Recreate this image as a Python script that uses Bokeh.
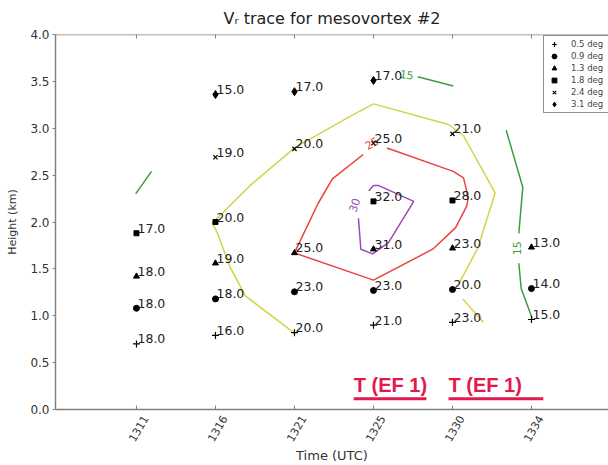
import math
from bokeh.plotting import figure
from bokeh.models import Range1d, FixedTicker, Span, Legend, LegendItem, CustomJSTickFormatter
from bokeh.core.properties import value
from bokeh.embed import file_html
from bokeh.resources import INLINE

# ---- data ----
times = ["1311", "1316", "1321", "1325", "1330", "1334"]
y_ticks = [0.0, 0.5, 1.0, 1.5, 2.0, 2.5, 3.0, 3.5, 4.0]

angle_labels = ["0.5 deg", "0.9 deg", "1.3 deg", "1.8 deg", "2.4 deg", "3.1 deg"]
angle_markers = ["cross", "circle", "triangle", "square", "x", "diamond"]

t05 = ["1311", "1316", "1321", "1325", "1330", "1334"]
h05 = [0.70, 0.79, 0.82, 0.90, 0.93, 0.96]
v05 = [18.0, 16.0, 20.0, 21.0, 23.0, 15.0]

t09 = ["1311", "1316", "1321", "1325", "1330", "1334"]
h09 = [1.08, 1.18, 1.255, 1.27, 1.28, 1.29]
v09 = [18.0, 18.0, 23.0, 23.0, 20.0, 14.0]

t13 = ["1311", "1316", "1321", "1325", "1330", "1334"]
h13 = [1.42, 1.56, 1.67, 1.71, 1.72, 1.73]
v13 = [18.0, 19.0, 25.0, 31.0, 23.0, 13.0]

t18 = ["1311", "1316", "1325", "1330"]
h18 = [1.88, 2.00, 2.22, 2.23]
v18 = [17.0, 20.0, 32.0, 28.0]

t24 = ["1316", "1321", "1325", "1330"]
h24 = [2.69, 2.78, 2.84, 2.94]
v24 = [19.0, 20.0, 25.0, 21.0]

t31 = ["1316", "1321", "1325"]
h31 = [3.36, 3.39, 3.51]
v31 = [15.0, 17.0, 17.0]

series_t = [t05, t09, t13, t18, t24, t31]
series_h = [h05, h09, h13, h18, h24, h31]
series_v = [v05, v09, v13, v18, v24, v31]

# contour lines (x in time-index units, y in km)
c15_x = [[-0.01, 0.19], [3.56, 4.01], [4.68, 4.89, 4.84], [4.84, 4.87, 5.01]]
c15_y = [[2.30, 2.54], [3.55, 3.45], [2.98, 2.37, 1.88], [1.56, 1.29, 0.97]]
c20_x = [[1.99, 1.38, 1.19, 1.03, 0.96, 1.44, 2.00, 2.71, 3.00, 3.95, 4.14, 4.54, 4.32, 4.08], [4.13, 4.39]]
c20_y = [[0.82, 1.21, 1.51, 1.87, 1.99, 2.39, 2.79, 3.13, 3.26, 3.04, 2.92, 2.31, 1.72, 1.34], [1.18, 0.93]]
c25_x = [[3.17, 4.01, 4.14, 4.20, 4.18, 4.04, 3.75, 3.00, 2.00, 2.30, 2.48, 2.87]]
c25_y = [[2.79, 2.54, 2.47, 2.26, 2.17, 1.94, 1.71, 1.38, 1.67, 2.20, 2.46, 2.72]]
c30_x = [[2.94, 3.00, 3.06, 3.51, 3.19, 2.99, 2.84, 2.81]]
c30_y = [[2.33, 2.39, 2.39, 2.22, 1.78, 1.66, 1.71, 2.04]]

clabel_x = [3.42, 4.82, 2.98, 2.76]
clabel_y = [3.57, 1.72, 2.84, 2.18]
clabel_text = ["15", "15", "25", "30"]
clabel_angle = [-0.15, 1.5708, 0.5, 1.25]
clabel_color = ["#3c9c3c", "#3c9c3c", "#e8443c", "#9a4ab4"]

# tornado annotations
tor_text = ["T (EF 1)", "T (EF 1)"]
tor_x0 = [2.75, 3.95]
tor_x1 = [3.67, 5.15]
tor_y_text = [0.265, 0.265]
tor_y_line = [0.115, 0.115]

# ---- figure ----
p = figure(width=608, height=465, x_range=Range1d(-1.025, 5.975), y_range=Range1d(0, 4),
           output_backend="svg", toolbar_location=None,
           min_border_left=55, min_border_right=0, min_border_top=33, min_border_bottom=56)

p.title.text = "V\u1d63 trace for mesovortex #2"
p.title.align = "center"
p.title.text_font = "DejaVu Sans"
p.title.text_font_size = "16px"
p.title.text_font_style = "normal"
p.title.text_color = "#222222"
p.title.standoff = 13

p.grid.visible = False
p.outline_line_color = None
p.background_fill_color = "white"
p.border_fill_color = "white"

p.add_layout(Span(location=4.0, dimension="width", line_color="#808080", line_width=1.5))

idx = list(range(len(times)))
label_shift = 0.114  # rotated labels centred on their ticks

xa = p.xaxis[0]
xa.ticker = FixedTicker(ticks=[i + label_shift for i in idx])
xa.formatter = CustomJSTickFormatter(args=dict(labels=times), code="return labels[Math.round(tick)];")
xa.major_label_orientation = 1.047
xa.major_label_standoff = 7
xa.major_label_text_font = "DejaVu Sans"
xa.major_label_text_font_size = "11px"
xa.major_label_text_color = "#333333"
xa.major_tick_line_color = None
xa.major_tick_in = 0
xa.major_tick_out = 0
xa.minor_tick_line_color = None
xa.minor_tick_in = 0
xa.minor_tick_out = 0
xa.axis_line_color = "#808080"
xa.axis_line_width = 1.5
xa.axis_label = "Time (UTC)"
xa.axis_label_standoff = 0
xa.axis_label_text_font = "DejaVu Sans"
xa.axis_label_text_font_style = "normal"
xa.axis_label_text_font_size = "13px"
xa.axis_label_text_color = "#333333"

ya = p.yaxis[0]
ya.ticker = FixedTicker(ticks=y_ticks)
ya.major_label_overrides = {t: "%.1f" % t for t in y_ticks}
ya.axis_label = "Height (km)"
ya.major_tick_in = 0
ya.major_tick_out = 3
ya.minor_tick_line_color = None
ya.major_label_standoff = 3
ya.axis_label_standoff = 8
ya.axis_line_color = "#808080"
ya.axis_line_width = 1.5
ya.major_tick_line_color = "#808080"
ya.major_label_text_font = "DejaVu Sans"
ya.major_label_text_font_size = "12px"
ya.major_label_text_color = "#333333"
ya.axis_label_text_font = "DejaVu Sans"
ya.axis_label_text_font_style = "normal"
ya.axis_label_text_color = "#333333"
ya.axis_label_text_font_size = "11px"

# inward tick marks at the time positions (bottom and top spines)
p.scatter(idx, [0.0] * len(idx), marker="dash", angle=math.pi / 2, size=8, line_color="#808080", line_width=1)
p.scatter(idx, [4.0] * len(idx), marker="dash", angle=math.pi / 2, size=8, line_color="#808080", line_width=1)

# contours
p.multi_line(c15_x, c15_y, line_color="#3c9c3c", line_width=1.5)
p.multi_line(c20_x, c20_y, line_color="#d2d448", line_width=1.5)
p.multi_line(c25_x, c25_y, line_color="#e8443c", line_width=1.5)
p.multi_line(c30_x, c30_y, line_color="#9a4ab4", line_width=1.5)
p.text(clabel_x, clabel_y, text=clabel_text, angle=clabel_angle, text_color=clabel_color,
       text_font=value("DejaVu Sans"), text_font_size="11px", text_align="center", text_baseline="middle")

# points
sizes = {"cross": 7, "circle": 6, "triangle": 6, "square": 5, "x": 6, "diamond": 8}
items = []
all_x, all_y, all_t = [], [], []
for lab, mk, ts, hs, vs in zip(angle_labels, angle_markers, series_t, series_h, series_v):
    xs = [times.index(t) for t in ts]
    r = p.scatter(xs, hs, marker=mk, size=sizes[mk], fill_color="black", line_color="black",
                  line_width=1.2 if mk in ("cross", "x") else 1)
    items.append(LegendItem(label=lab, renderers=[r]))
    all_x += xs
    all_y += hs
    all_t += ["%.1f" % v for v in vs]

p.text(all_x, all_y, text=all_t, text_font=value("DejaVu Sans"), text_font_size="12.5px",
       text_color="#222222", text_baseline="alphabetic", text_align="left", x_offset=1, y_offset=-5)

# tornado markers
p.segment(tor_x0, tor_y_line, tor_x1, tor_y_line, line_color="#e2194e", line_width=3)
p.text(tor_x0, tor_y_text, text=tor_text, text_font=value("Liberation Sans"), text_font_size="20px",
       text_font_style="bold", text_color="#e2194e", text_baseline="alphabetic")

legend = Legend(items=items, location=(488, 296), padding=2, spacing=0, glyph_height=12,
                glyph_width=16, label_height=12, label_width=50, label_standoff=9, margin=0,
                label_text_font="DejaVu Sans", label_text_font_size="8.5px",
                label_text_color="#444444", border_line_color="#222222", border_line_width=1,
                background_fill_color="white", background_fill_alpha=1.0)
p.add_layout(legend)

open("out.html", "w").write(file_html(p, INLINE))
